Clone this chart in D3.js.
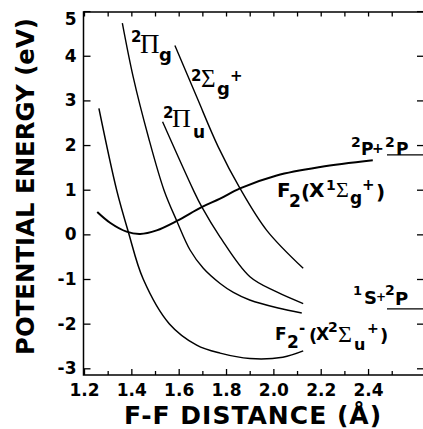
<!DOCTYPE html>
<html>
<head>
<meta charset="utf-8">
<title></title>
<style>
  body { margin: 0; background: #fff; }
</style>
</head>
<body>
<script src="https://d3js.org/d3.v7.min.js"></script>
<script>

// potential curves, F-F distance (Å) vs energy (eV)
var groundX = [1.256, 1.31, 1.38, 1.437, 1.507, 1.592, 1.697, 1.775, 1.859, 2.014, 2.198, 2.42];
var groundE = [0.50, 0.26, 0.06, 0.01, 0.09, 0.30, 0.61, 0.80, 1.03, 1.32, 1.51, 1.66];

var anionX = [1.263, 1.338, 1.387, 1.45, 1.56, 1.676, 1.775, 1.901, 2.04, 2.126];
var anionE = [2.82, 0.99, 0.06, -1.0, -2.0, -2.48, -2.66, -2.78, -2.75, -2.61];

var piGX = [1.362, 1.408, 1.472, 1.538, 1.592, 1.648, 1.704, 1.775, 1.831, 1.90, 2.02, 2.12];
var piGE = [4.73, 3.52, 2.18, 0.99, 0.30, -0.35, -0.76, -1.10, -1.30, -1.47, -1.65, -1.76];

var piUX = [1.532, 1.662, 1.697, 1.775, 1.901, 2.014, 2.126];
var piUE = [2.52, 0.99, 0.62, -0.06, -0.95, -1.29, -1.55];

var sigGX = [1.584, 1.676, 1.767, 1.859, 1.972, 2.126];
var sigGE = [4.23, 3.08, 1.96, 1.03, 0.09, -0.76];

// dissociation limits
var limitE = [1.78, -1.67];
var limitX = [2.48, 2.64];

// ticks
var xTicks = [1.2, 1.4, 1.6, 1.8, 2.0, 2.2, 2.4];
var xMinor = [1.3, 1.5, 1.7, 1.9, 2.1, 2.3, 2.5];
var yTicks = [-3, -2, -1, 0, 1, 2, 3, 4, 5];

var W = 423, H = 429;
var fL = 83.5, fR = 423, fT = 12, fB = 375;

var svg = d3.select("body").append("svg")
    .attr("width", W)
    .attr("height", H)
    .style("font-family", "DejaVu Sans")
    .style("font-weight", "bold");

var x = d3.scaleLinear().domain([1.2, 2.6]).range([84, 415.4]);
var y = d3.scaleLinear().domain([-3.15, 4.98]).range([fB, fT]);

function styleAxis(g) {
    g.select(".domain").remove();
    g.selectAll(".tick line").attr("stroke", "#000").attr("stroke-width", 1.3);
    g.attr("font-family", "DejaVu Sans").attr("font-size", 17).attr("font-weight", "bold");
    g.selectAll(".tick text").attr("fill", "#000");
}

// bottom axis
svg.append("g")
    .attr("transform", "translate(0," + fB + ")")
    .call(d3.axisBottom(x).tickValues(xTicks).tickSizeInner(-6).tickSizeOuter(0)
        .tickPadding(9).tickFormat(d3.format(".1f")))
    .call(styleAxis);
svg.append("g")
    .attr("transform", "translate(0," + fB + ")")
    .call(d3.axisBottom(x).tickValues(xMinor).tickSizeInner(-4).tickSizeOuter(0).tickFormat(""))
    .call(styleAxis);

// top axis
svg.append("g")
    .attr("transform", "translate(0," + fT + ")")
    .call(d3.axisTop(x).tickValues(xTicks.concat(xMinor)).tickSizeInner(-4.5).tickSizeOuter(0).tickFormat(""))
    .call(styleAxis);

// left axis
var gy = svg.append("g")
    .attr("transform", "translate(" + fL + ",0)")
    .call(d3.axisLeft(y).tickValues(yTicks).tickSizeInner(-7).tickSizeOuter(0).tickPadding(7)
        .tickFormat(function(d) { return d < 0 ? "-" + (-d) : "" + d; }))
    .call(styleAxis);
gy.selectAll(".tick text").filter(function(d) { return d === 5; })
    .attr("transform", "translate(0,8)");

// right axis
svg.append("g")
    .attr("transform", "translate(" + fR + ",0)")
    .call(d3.axisRight(y).tickValues(yTicks).tickSizeInner(-6).tickSizeOuter(0).tickFormat(""))
    .call(styleAxis);

// frame (right side is cut off in the figure)
svg.append("path")
    .attr("d", "M" + fR + "," + fT + "H" + fL + "V" + fB + "H" + fR)
    .attr("fill", "none")
    .attr("stroke", "#000")
    .attr("stroke-width", 1.5);

// curves
var line = d3.line()
    .x(function(d) { return x(d[0]); })
    .y(function(d) { return y(d[1]); })
    .curve(d3.curveCatmullRom.alpha(0.5));

var curves = [
    { pts: d3.zip(groundX, groundE), w: 2 },
    { pts: d3.zip(anionX, anionE), w: 1.5 },
    { pts: d3.zip(piGX, piGE), w: 1.4 },
    { pts: d3.zip(piUX, piUE), w: 1.4 },
    { pts: d3.zip(sigGX, sigGE), w: 1.4 }
];

svg.selectAll("path.curve")
    .data(curves)
    .enter()
    .append("path")
    .attr("class", "curve")
    .attr("d", function(d) { return line(d.pts); })
    .attr("fill", "none")
    .attr("stroke", "#000")
    .attr("stroke-width", function(d) { return d.w; });

// asymptote levels
svg.selectAll("line.limit")
    .data(limitE)
    .enter()
    .append("line")
    .attr("class", "limit")
    .attr("x1", x(limitX[0]))
    .attr("x2", x(limitX[1]))
    .attr("y1", function(d) { return y(d); })
    .attr("y2", function(d) { return y(d); })
    .attr("stroke", "#000")
    .attr("stroke-width", 1.3);

// labels: each piece is [text, x, baseline, size, greek?]
function label(pieces) {
    var t = svg.append("text");
    pieces.forEach(function(p) {
        t.append("tspan")
            .attr("x", p[1])
            .attr("y", p[2])
            .attr("font-size", p[3])
            .attr("font-family", p[4] ? "Liberation Serif" : "DejaVu Sans")
            .attr("font-weight", p[4] ? "normal" : "bold")
            .text(p[0]);
    });
}

label([["2", 131, 42, 15], ["\u03A0", 140, 53, 27, 1], ["g", 159, 61, 18]]);
label([["2", 191, 81, 15], ["\u03A3", 201, 87, 25, 1], ["g", 217, 95, 18], ["+", 230, 81, 15]]);
label([["2", 163, 118, 15], ["\u03A0", 172, 127, 26, 1], ["u", 193, 138, 17]]);
label([["F", 277, 197, 20], ["2", 289, 207, 17], ["(", 301, 199, 20], ["X", 309, 197, 20],
    ["1", 326, 190, 14], ["\u03A3", 336, 197, 22, 1], ["g", 350, 204, 17], ["+", 362, 190, 15],
    [")", 376, 199, 20]]);
label([["2", 351, 147, 14], ["P", 361, 155, 17], ["+", 372, 153, 14], ["2", 385, 147, 14],
    ["P", 396, 155, 17]]);
label([["1", 353, 295, 13], ["S", 364, 304, 18], ["+", 376, 301, 12], ["2", 385, 295, 14],
    ["P", 395, 305, 18]]);
label([["F", 275, 340, 17], ["2", 287, 348, 17], ["-", 299, 333, 15], ["(", 309, 342, 18],
    ["X", 316, 340, 17], ["2", 328, 332, 14], ["\u03A3", 338, 342, 24, 1], ["u", 354, 350, 16],
    ["+", 367, 333, 14], [")", 380, 342, 18]]);

// axis titles
svg.append("text")
    .attr("x", 253)
    .attr("y", 424)
    .attr("text-anchor", "middle")
    .attr("font-size", 25)
    .attr("letter-spacing", 1)
    .text("F-F DISTANCE (\u00C5)");

svg.append("text")
    .attr("transform", "translate(34,186.5) rotate(-90)")
    .attr("text-anchor", "middle")
    .attr("font-size", 24.4)
    .text("POTENTIAL ENERGY (eV)");

</script>
</body>
</html>
